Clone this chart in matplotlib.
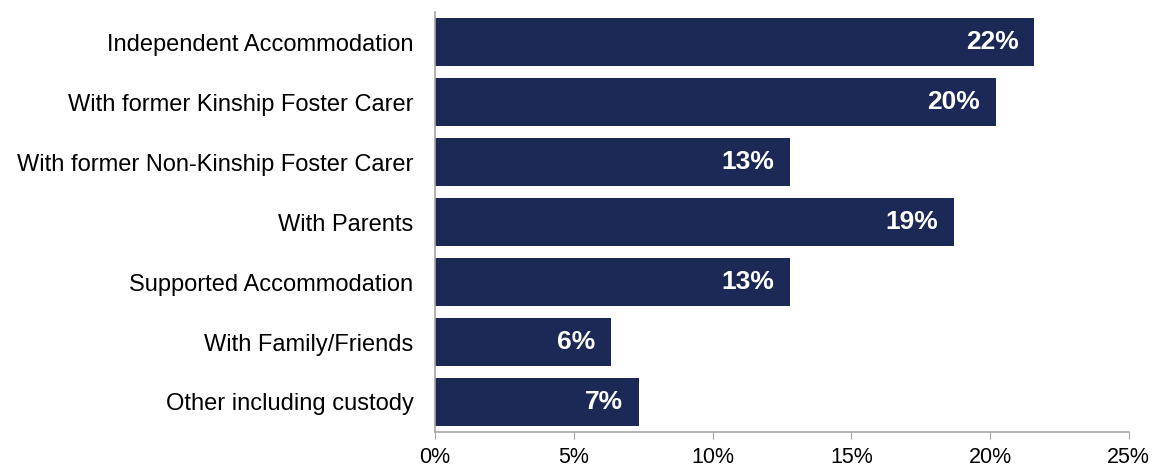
import matplotlib.pyplot as plt
from matplotlib.ticker import PercentFormatter

plt.rcParams['font.family'] = ['Liberation Sans', 'DejaVu Sans']

categories = ["Independent Accommodation",
              "With former Kinship Foster Carer",
              "With former Non-Kinship Foster Carer",
              "With Parents",
              "Supported Accommodation",
              "With Family/Friends",
              "Other including custody"]
values = [21.6, 20.2, 12.8, 18.7, 12.8, 6.35, 7.35]
labels = ["22%", "20%", "13%", "19%", "13%", "6%", "7%"]

bar_color = "#1c2957"

fig = plt.figure(figsize=(11.53, 4.66), dpi=100)
ax = fig.add_axes([0.3773, 0.073, 0.6017, 0.901])

pos = list(range(len(categories)))
bars = ax.barh(pos, values, height=0.8, color=bar_color)
ax.set_ylim(len(categories) - 0.5, -0.5)
ax.set_yticks(pos)
ax.set_yticklabels(categories, fontsize=17)
ax.tick_params(axis='y', length=0, pad=15.5)

ax.set_xlim(0, 25)
ax.set_xticks([0, 5, 10, 15, 20, 25])
ax.xaxis.set_major_formatter(PercentFormatter(decimals=0))
ax.tick_params(axis='x', length=5, color="#a6a6a6", labelsize=15.5, pad=6)

for s in ['top', 'right']:
    ax.spines[s].set_visible(False)
for s in ['left', 'bottom']:
    ax.spines[s].set_color("#a6a6a6")
    ax.spines[s].set_linewidth(1.2)

for bar, lab in zip(bars, labels):
    ax.annotate(lab, (bar.get_width(), bar.get_y() + bar.get_height() / 2),
                xytext=(-11.5, 0), textcoords='offset points',
                ha='right', va='center', color='white',
                fontsize=19, fontweight='bold')

fig.savefig("out.png", dpi=100)
